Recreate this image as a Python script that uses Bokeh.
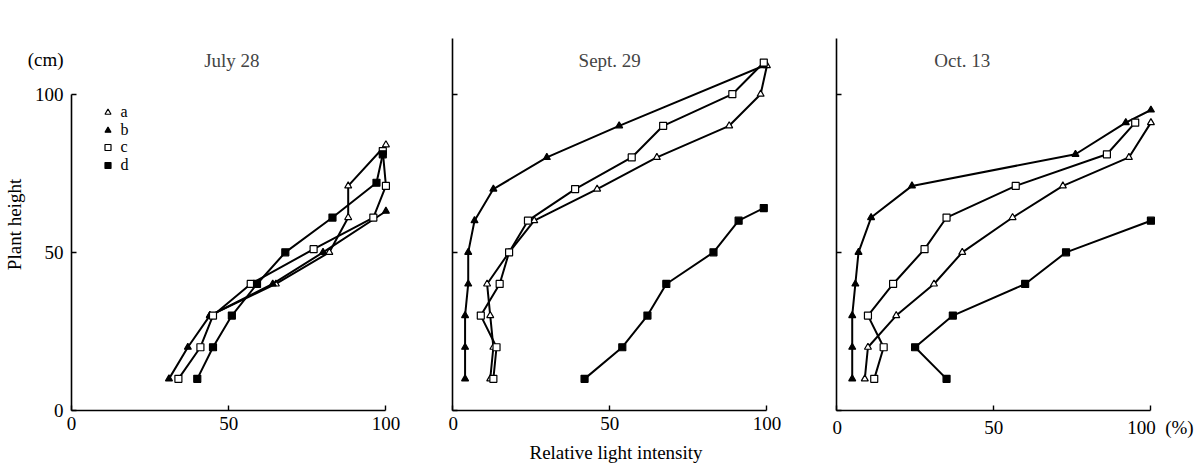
from bokeh.plotting import figure
from bokeh.layouts import row
from bokeh.models import FixedTicker, Label, Legend, LegendItem, Range1d
from bokeh.embed import file_html
from bokeh.resources import INLINE

FONT = "Liberation Serif"

# ---- data: relative light intensity (%) at plant height (cm) ----
# July 28
jul_a_h = [30, 40, 50, 61, 71, 84]
jul_a_v = [44, 65, 82, 88, 88, 100]
jul_b_h = [10, 20, 30, 40, 50, 63]
jul_b_v = [31, 37, 44, 64, 80, 100]
jul_c_h = [10, 20, 30, 40, 51, 61, 71, 82]
jul_c_v = [34, 41, 45, 57, 77, 96, 100, 99]
jul_d_h = [10, 20, 30, 40, 50, 61, 72, 81]
jul_d_v = [40, 45, 51, 59, 68, 83, 97, 99]

# Sept. 29
sep_a_h = [10, 20, 30, 40, 50, 60, 70, 80, 90, 100, 109]
sep_a_v = [12, 13, 12, 11, 18, 26, 46, 65, 88, 98, 100]
sep_b_h = [10, 20, 30, 40, 50, 60, 70, 80, 90, 109]
sep_b_v = [4, 4, 4, 5, 5, 7, 13, 30, 53, 99]
sep_c_h = [10, 20, 30, 40, 50, 60, 70, 80, 90, 100, 110]
sep_c_v = [13, 14, 9, 15, 18, 24, 39, 57, 67, 89, 99]
sep_d_h = [10, 20, 30, 40, 50, 60, 64]
sep_d_v = [42, 54, 62, 68, 83, 91, 99]

# Oct. 13
oct_a_h = [10, 20, 30, 40, 50, 61, 71, 80, 91]
oct_a_v = [9, 10, 19, 31, 40, 56, 72, 93, 100]
oct_b_h = [10, 20, 30, 40, 50, 61, 71, 81, 91, 95]
oct_b_v = [5, 5, 5, 6, 7, 11, 24, 76, 92, 100]
oct_c_h = [10, 20, 30, 40, 51, 61, 71, 81, 91]
oct_c_v = [12, 15, 10, 18, 28, 35, 57, 86, 95]
oct_d_h = [10, 20, 30, 40, 50, 60]
oct_d_v = [35, 25, 37, 60, 73, 100]

titles = ["July 28", "Sept. 29", "Oct. 13"]
series_names = ["a", "b", "c", "d"]
x_ticks = [0, 50, 100]
y_ticks = [0, 50, 100]
y_unit = "(cm)"
x_unit = "(%)"

panels = [
    [(jul_a_v, jul_a_h), (jul_b_v, jul_b_h), (jul_c_v, jul_c_h), (jul_d_v, jul_d_h)],
    [(sep_a_v, sep_a_h), (sep_b_v, sep_b_h), (sep_c_v, sep_c_h), (sep_d_v, sep_d_h)],
    [(oct_a_v, oct_a_h), (oct_b_v, oct_b_h), (oct_c_v, oct_c_h), (oct_d_v, oct_d_h)],
]

marker_style = [
    dict(marker="triangle", fill_color="white"),
    dict(marker="triangle", fill_color="black"),
    dict(marker="square", fill_color="white"),
    dict(marker="square", fill_color="black"),
]

layout_spec = [
    dict(left=63, right=50),
    dict(left=4, right=53),
    dict(left=4, right=31),
]
title_x = [51, 50, 40]
legend_rows = [286, 268.5, 251, 233.5]

TICK_FS = "19px"
NBSP = "\u00a0"


def style_axis(ax):
    ax.axis_line_color = "black"
    ax.axis_line_width = 1.6
    ax.major_tick_line_color = "black"
    ax.major_tick_line_width = 1.4
    ax.major_tick_in = 5
    ax.major_tick_out = 0
    ax.minor_tick_line_color = None
    ax.major_label_text_font = FONT
    ax.major_label_text_font_size = TICK_FS
    ax.major_label_text_color = "black"
    ax.axis_label_text_font = FONT
    ax.axis_label_text_font_size = "19px"
    ax.axis_label_text_font_style = "normal"
    ax.axis_label_text_color = "black"


figs = []
for i, (data, spec) in enumerate(zip(panels, layout_spec)):
    p = figure(frame_width=327, frame_height=372,
               x_range=Range1d(0, 104), y_range=Range1d(0, 117.6),
               output_backend="svg", toolbar_location=None,
               min_border_left=spec["left"], min_border_right=spec["right"],
               min_border_top=38, min_border_bottom=46)
    p.outline_line_color = None
    p.xgrid.visible = False
    p.ygrid.visible = False
    p.background_fill_color = "white"
    p.border_fill_color = "white"

    xa = p.xaxis[0]
    ya = p.yaxis[0]
    style_axis(xa)
    style_axis(ya)
    xa.ticker = FixedTicker(ticks=x_ticks)
    ya.ticker = FixedTicker(ticks=y_ticks)
    xa.bounds = (0, 100)
    xa.major_label_standoff = 6
    if i == 0:
        ya.bounds = (0, 100)
        ya.major_label_standoff = 8
        ya.axis_label = "Plant height"
        ya.axis_label_standoff = 0
        ya.major_label_text_line_height = 0.82
        ya.major_label_overrides = {100: y_unit + "\n\n100\n\n"}
    else:
        ya.major_label_overrides = {t: "" for t in y_ticks}
        ya.major_label_standoff = 0
    if i == 1:
        xa.axis_label = "Relative light intensity"
        xa.axis_label_standoff = 9
    if i == 2:
        xa.major_label_overrides = {100: NBSP * 4 + "100" + NBSP * 2 + x_unit}

    scatters = []
    for (vals, hts), ms in zip(data, marker_style):
        p.line(vals, hts, line_color="black", line_width=2)
        r = p.scatter(vals, hts, size=7, line_color="black", line_width=1.2,
                      **ms)
        scatters.append(r)

    p.add_layout(Label(x=title_x[i], y=110.7, text=titles[i],
                       text_font=FONT, text_font_size="19px",
                       text_align="center", text_baseline="middle"))

    if i == 0:
        for name, r, vy in zip(series_names, scatters, legend_rows):
            legend = Legend(items=[LegendItem(label=name, renderers=[r])],
                            location=(28.5, vy), orientation="vertical",
                            glyph_width=15, glyph_height=24, label_height=24,
                            spacing=0, padding=0, margin=0, label_standoff=6,
                            border_line_color=None, background_fill_alpha=0,
                            label_text_font=FONT, label_text_font_size="16px",
                            label_text_color="black",
                            label_text_baseline="middle")
            p.add_layout(legend)
    figs.append(p)

layout = row(*figs, spacing=0)
open("out.html", "w").write(file_html(layout, INLINE))
